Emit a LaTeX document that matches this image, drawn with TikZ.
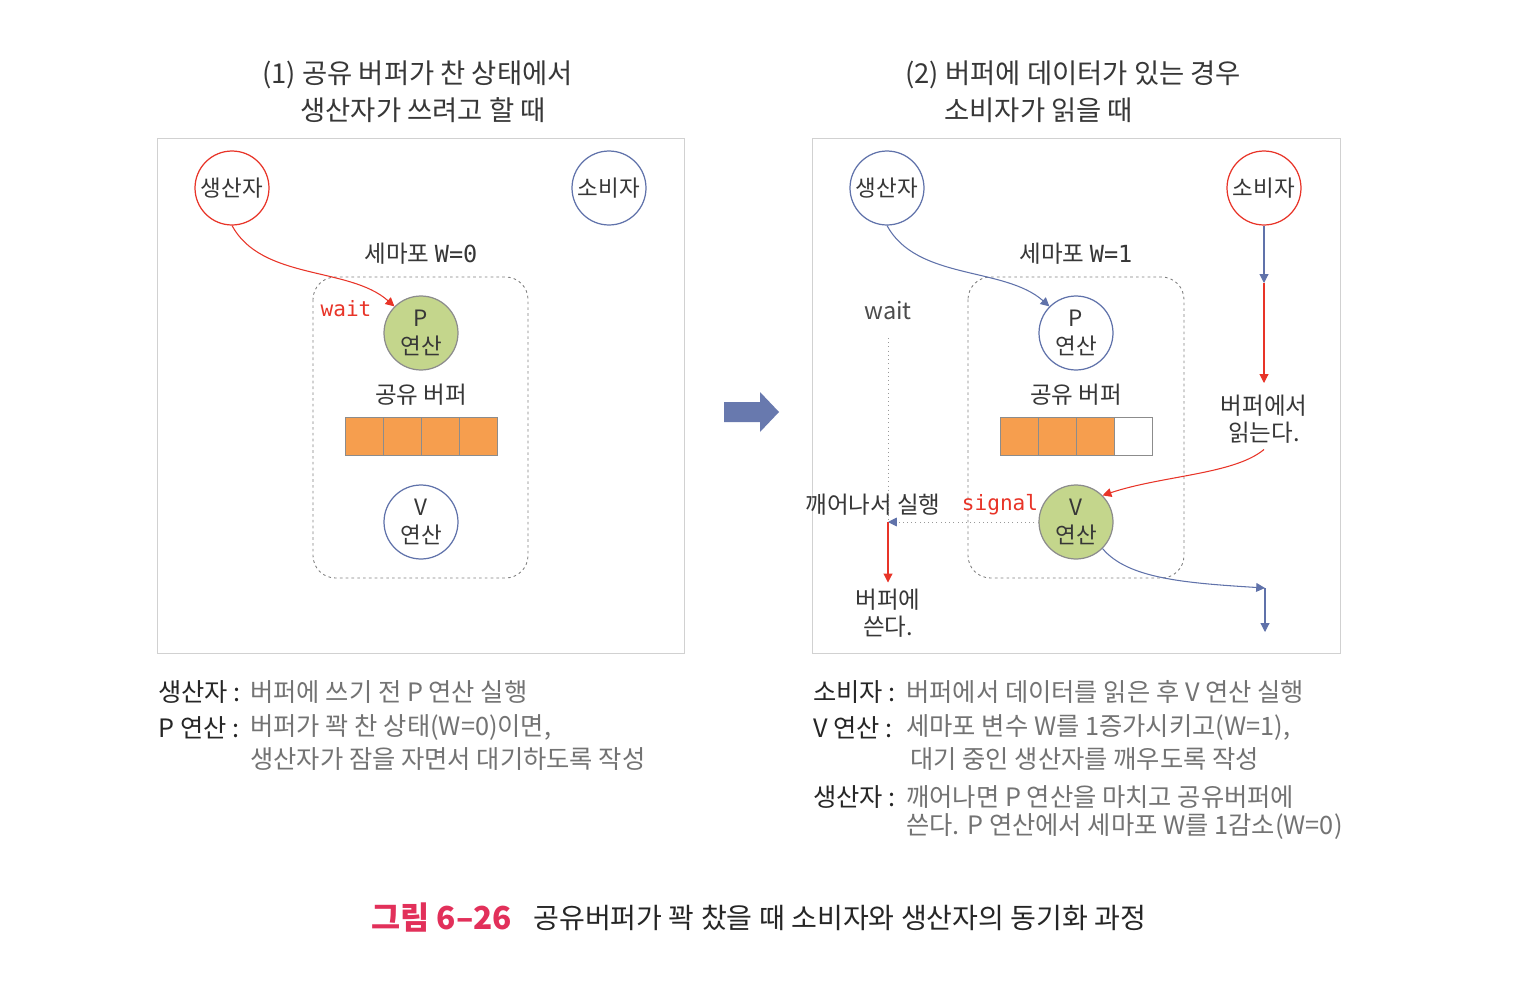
\documentclass[tikz,border=0pt]{standalone}
\usepackage{fontspec}
\setmainfont{Noto Sans CJK KR}
\newfontfamily\codefont{DejaVu Sans Mono}
\usetikzlibrary{arrows.meta}
\definecolor{ored}{RGB}{232,52,40}
\definecolor{oblue}{RGB}{96,114,170}
\definecolor{ogreen}{RGB}{196,214,140}
\definecolor{oorange}{RGB}{246,158,78}
\definecolor{otext}{RGB}{55,55,55}
\definecolor{onote}{RGB}{115,115,115}
\definecolor{opink}{RGB}{226,48,90}

\begin{document}
\begin{tikzpicture}[x=0.02cm, y=-0.02cm,
    proc/.style={circle, draw=oblue, line width=0.7pt, fill=white, minimum size=1.48cm,
      inner sep=0pt, align=center, text=otext, font=\fontsize{12.8}{15.5}\selectfont},
    active/.style={fill=ogreen, draw=black!45},
    frame/.style={draw=black!18, line width=0.5pt},
    semabox/.style={draw=black!50, line width=0.5pt, dash pattern=on 1.5pt off 1.8pt, rounded corners=0.45cm},
    cell/.style={draw=black!45, fill=oorange, line width=0.4pt},
    redarrow/.style={draw=ored, line width=0.6pt, -{Triangle[length=5pt,width=5pt]}},
    bluearrow/.style={draw=oblue, line width=0.6pt, -{Triangle[length=5pt,width=5pt]}},
    label/.style={text=otext, align=center, font=\fontsize{13.4}{15.5}\selectfont},
    code/.style={text=ored, font=\codefont\fontsize{12}{14}\selectfont},
    title/.style={anchor=west, inner sep=0pt, text=otext, font=\fontsize{15.6}{18}\selectfont},
    notehead/.style={anchor=west, inner sep=0pt, text=black!85, font=\fontsize{14.4}{17}\selectfont},
    note/.style={anchor=west, inner sep=0pt, text=onote, font=\fontsize{14.4}{17}\selectfont}]
  \fill[white] (0,0) rectangle (1536,994);
  \useasboundingbox (0,0) rectangle (1536,994);

  % titles
  \node[title] (t1a) at (262,75) {(1) 공유 버퍼가 찬 상태에서};
  \node[title] (t1b) at (300,110) {생산자가 쓰려고 할 때};
  \node[title] (t2a) at (905,75) {(2) 버퍼에 데이터가 있는 경우};
  \node[title] (t2b) at (944,110) {소비자가 읽을 때};

  % (1) buffer full, producer wants to write
  \draw[frame] (157,138) rectangle (684,653);
  \draw[semabox] (313,277) rectangle (528,578);
  \node[proc, draw=ored] (prodA) at (232,188) {생산자};
  \node[proc] (consA) at (609,188) {소비자};
  \node[label] (semA) at (421,254) {세마포 {\codefont W=0}};
  \node[proc, active] (pA) at (421,333) {P\\연산};
  \node[code] (waitA) at (346,309) {wait};
  \node[label] (bufA) at (421,395) {공유 버퍼};
  \foreach \i in {0,...,3}
    \draw[cell] (345+38*\i,417) rectangle ++(38,38);
  \node[proc] (vA) at (421,522) {V\\연산};
  \draw[redarrow] (prodA.south) .. controls +(30,55) and +(-45,-40) .. (pA.north west);

  % big arrow
  \fill[oblue!95] (724,402) -- (760,402) -- (760,392) -- (779,412) -- (760,432) -- (760,422) -- (724,422) -- cycle;

  % (2) data in buffer, consumer reads
  \draw[frame] (812,138) rectangle (1340,653);
  \draw[semabox] (968,277) rectangle (1184,578);
  \node[proc] (prodB) at (887,188) {생산자};
  \node[proc, draw=ored] (consB) at (1264,188) {소비자};
  \node[label] (semB) at (1076,254) {세마포 {\codefont W=1}};
  \node[proc] (pB) at (1076,333) {P\\연산};
  \node[label] (bufB) at (1076,395) {공유 버퍼};
  \foreach \i in {0,1,2}
    \draw[cell] (1000+38*\i,417) rectangle ++(38,38);
  \draw[cell, fill=white] (1114,417) rectangle ++(38,38);
  \node[proc, active] (vB) at (1076,522) {V\\연산};
  \node[label, text=black!70] (waitB) at (888,311) {wait};
  \node[label] (wake) at (873,505) {깨어나서 실행};
  \node[code] (signal) at (1000,505) {signal};
  \node[label] (write) at (888,613) {버퍼에\\쓴다.};
  \node[label] (read) at (1264,419) {버퍼에서\\읽는다.};
  \coordinate (waitEnd) at (888,338);
  \coordinate (wakeB) at (888,522);
  \coordinate (readIn) at (1264,283);
  \coordinate (turn) at (1265,588);
  \coordinate (goOut) at (1265,632);

  \draw[bluearrow] (prodB.south) .. controls +(30,55) and +(-45,-40) .. (pB.north west);
  \draw[bluearrow] (consB.south) -- (readIn);
  \draw[redarrow] (readIn) -- (1264,383);
  \draw[redarrow] (read.south) .. controls +(-30,25) and +(60,-20) .. (vB.north east);
  \draw[bluearrow] (vB.south east) .. controls +(25,30) and +(-80,-5) .. (turn);
  \draw[bluearrow] (turn) -- (goOut);
  \draw[black!40, dotted] (waitEnd) -- (wakeB);
  \draw[black!40, dotted, -{Triangle[length=5pt,width=5pt,color=oblue]}] (vB.west) -- (wakeB);
  \draw[redarrow] (wakeB) -- (write.north);

  % notes
  \node[notehead] (n1) at (158,692) {생산자 :};
  \node[note] (n1t) at (250,692) {버퍼에 쓰기 전 P 연산 실행};
  \node[notehead] (n2) at (158,728) {P 연산 :};
  \node[note] (n2t) at (250,728) {버퍼가 꽉 찬 상태(W=0)이면,};
  \node[note] (n2u) at (250,759) {생산자가 잠을 자면서 대기하도록 작성};
  \node[notehead] (m1) at (813,692) {소비자 :};
  \node[note] (m1t) at (906,692) {버퍼에서 데이터를 읽은 후 V 연산 실행};
  \node[notehead] (m2) at (813,728) {V 연산 :};
  \node[note] (m2t) at (906,728) {세마포 변수 W를 1증가시키고(W=1),};
  \node[note] (m2u) at (910,759) {대기 중인 생산자를 깨우도록 작성};
  \node[notehead] (m3) at (813,797) {생산자 :};
  \node[note] (m3t) at (906,797) {깨어나면 P 연산을 마치고 공유버퍼에};
  \node[note] (m3u) at (906,827) {쓴다. P 연산에서 세마포 W를 1감소(W=0)};

  % caption
  \node[anchor=west, inner sep=0pt, text=opink, font=\bfseries\fontsize{18}{20}\selectfont] (capnum) at (371,918) {그림 6–26};
  \node[anchor=west, inner sep=0pt, text=black!85, font=\fontsize{16}{18}\selectfont] (cap) at (533,918) {공유버퍼가 꽉 찼을 때 소비자와 생산자의 동기화 과정};
\end{tikzpicture}
\end{document}
